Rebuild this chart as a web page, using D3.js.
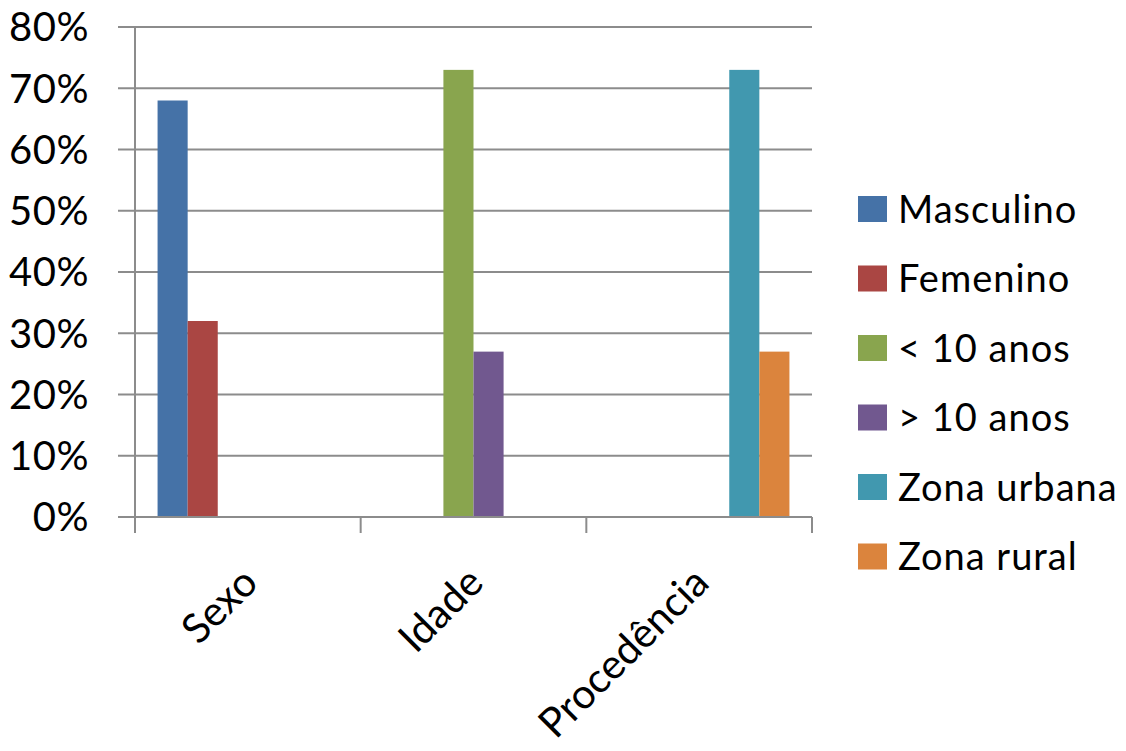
<!DOCTYPE html>
<html>
<head>
<meta charset="utf-8">
<script src="https://cdn.jsdelivr.net/npm/d3@7"></script>
<style>
  body { margin: 0; background: #fff; }
  svg { display: block; font-family: Lato, "Open Sans", sans-serif; }
</style>
</head>
<body>
<svg id="chart" width="1126" height="751"></svg>
<script>
const categories = ["Sexo", "Idade", "Procedência"];
const seriesNames = ["Masculino", "Femenino", "< 10 anos", "> 10 anos", "Zona urbana", "Zona rural"];
const colors = ["#4572A7", "#AA4643", "#89A54E", "#71588F", "#4198AF", "#DB843D"];

// percent per category (Sexo, Idade, Procedência)
const masculino = [68, 0, 0];
const femenino = [32, 0, 0];
const menos10 = [0, 73, 0];
const mais10 = [0, 27, 0];
const urbana = [0, 0, 73];
const rural = [0, 0, 27];
const yTicks = [0, 10, 20, 30, 40, 50, 60, 70, 80];

const seriesValues = [masculino, femenino, menos10, mais10, urbana, rural];

const svg = d3.select("#chart");
const plotLeft = 135, plotRight = 812, plotTop = 27, plotBottom = 517;

const x0 = d3.scaleBand().domain(categories).range([plotLeft, plotRight]).padding(0);
const x1 = d3.scaleBand().domain(d3.range(seriesNames.length))
  .range([x0.bandwidth() * 0.1, x0.bandwidth() * 0.9]).padding(0);
const y = d3.scaleLinear().domain([0, 80]).range([plotBottom, plotTop]);

const gridColor = "#8c8c8c";

// gridlines + y labels
svg.append("g")
  .selectAll("line")
  .data(yTicks)
  .join("line")
    .attr("x1", plotLeft - 17)
    .attr("x2", plotRight)
    .attr("y1", d => y(d))
    .attr("y2", d => y(d))
    .attr("stroke", gridColor)
    .attr("stroke-width", 2);

svg.append("g")
  .attr("font-size", 40)
  .attr("text-anchor", "end")
  .attr("letter-spacing", 0.5)
  .selectAll("text")
  .data(yTicks)
  .join("text")
    .attr("x", 89)
    .attr("y", d => y(d))
    .attr("dy", "0.36em")
    .attr("fill", "#000")
    .text(d => d + "%");

// y axis line
svg.append("line")
  .attr("x1", plotLeft).attr("x2", plotLeft)
  .attr("y1", y(80)).attr("y2", plotBottom + 16)
  .attr("stroke", gridColor).attr("stroke-width", 2);

// x tick marks at category boundaries
const bounds = categories.map(c => x0(c)).concat([plotRight]);
svg.append("g")
  .selectAll("line")
  .data(bounds.slice(1))
  .join("line")
    .attr("x1", d => d).attr("x2", d => d)
    .attr("y1", plotBottom).attr("y2", plotBottom + 16)
    .attr("stroke", gridColor).attr("stroke-width", 2);

// bars
const cells = [];
categories.forEach((c, ci) => {
  seriesValues.forEach((vals, si) => {
    if (vals[ci] > 0) cells.push({cat: c, s: si, v: vals[ci]});
  });
});

svg.append("g")
  .selectAll("rect")
  .data(cells)
  .join("rect")
    .attr("x", d => x0(d.cat) + x1(d.s))
    .attr("width", x1.bandwidth())
    .attr("y", d => y(d.v))
    .attr("height", d => y(0) - y(d.v))
    .attr("fill", d => colors[d.s]);

// x axis line on top of bars
svg.append("line")
  .attr("x1", plotLeft - 17).attr("x2", plotRight)
  .attr("y1", plotBottom).attr("y2", plotBottom)
  .attr("stroke", gridColor).attr("stroke-width", 2);

// category labels, rotated
svg.append("g")
  .attr("font-size", 41)
  .attr("text-anchor", "end")
  .selectAll("text")
  .data(categories)
  .join("text")
    .attr("transform", d => `translate(${x0(d) + x0.bandwidth() / 2 + 12},${plotBottom + 68}) rotate(-45)`)
    .attr("fill", "#000")
    .text(d => d);

// legend
const legend = svg.append("g")
  .selectAll("g")
  .data(seriesNames)
  .join("g")
    .attr("transform", (d, i) => `translate(858,${209 + i * 69.5})`);

legend.append("rect")
  .attr("x", 0).attr("y", -13)
  .attr("width", 29).attr("height", 26)
  .attr("fill", (d, i) => colors[i]);

legend.append("text")
  .attr("x", 40)
  .attr("dy", "0.36em")
  .attr("font-size", 38)
  .attr("letter-spacing", 1)
  .attr("fill", "#000")
  .text(d => d);
</script>
</body>
</html>
